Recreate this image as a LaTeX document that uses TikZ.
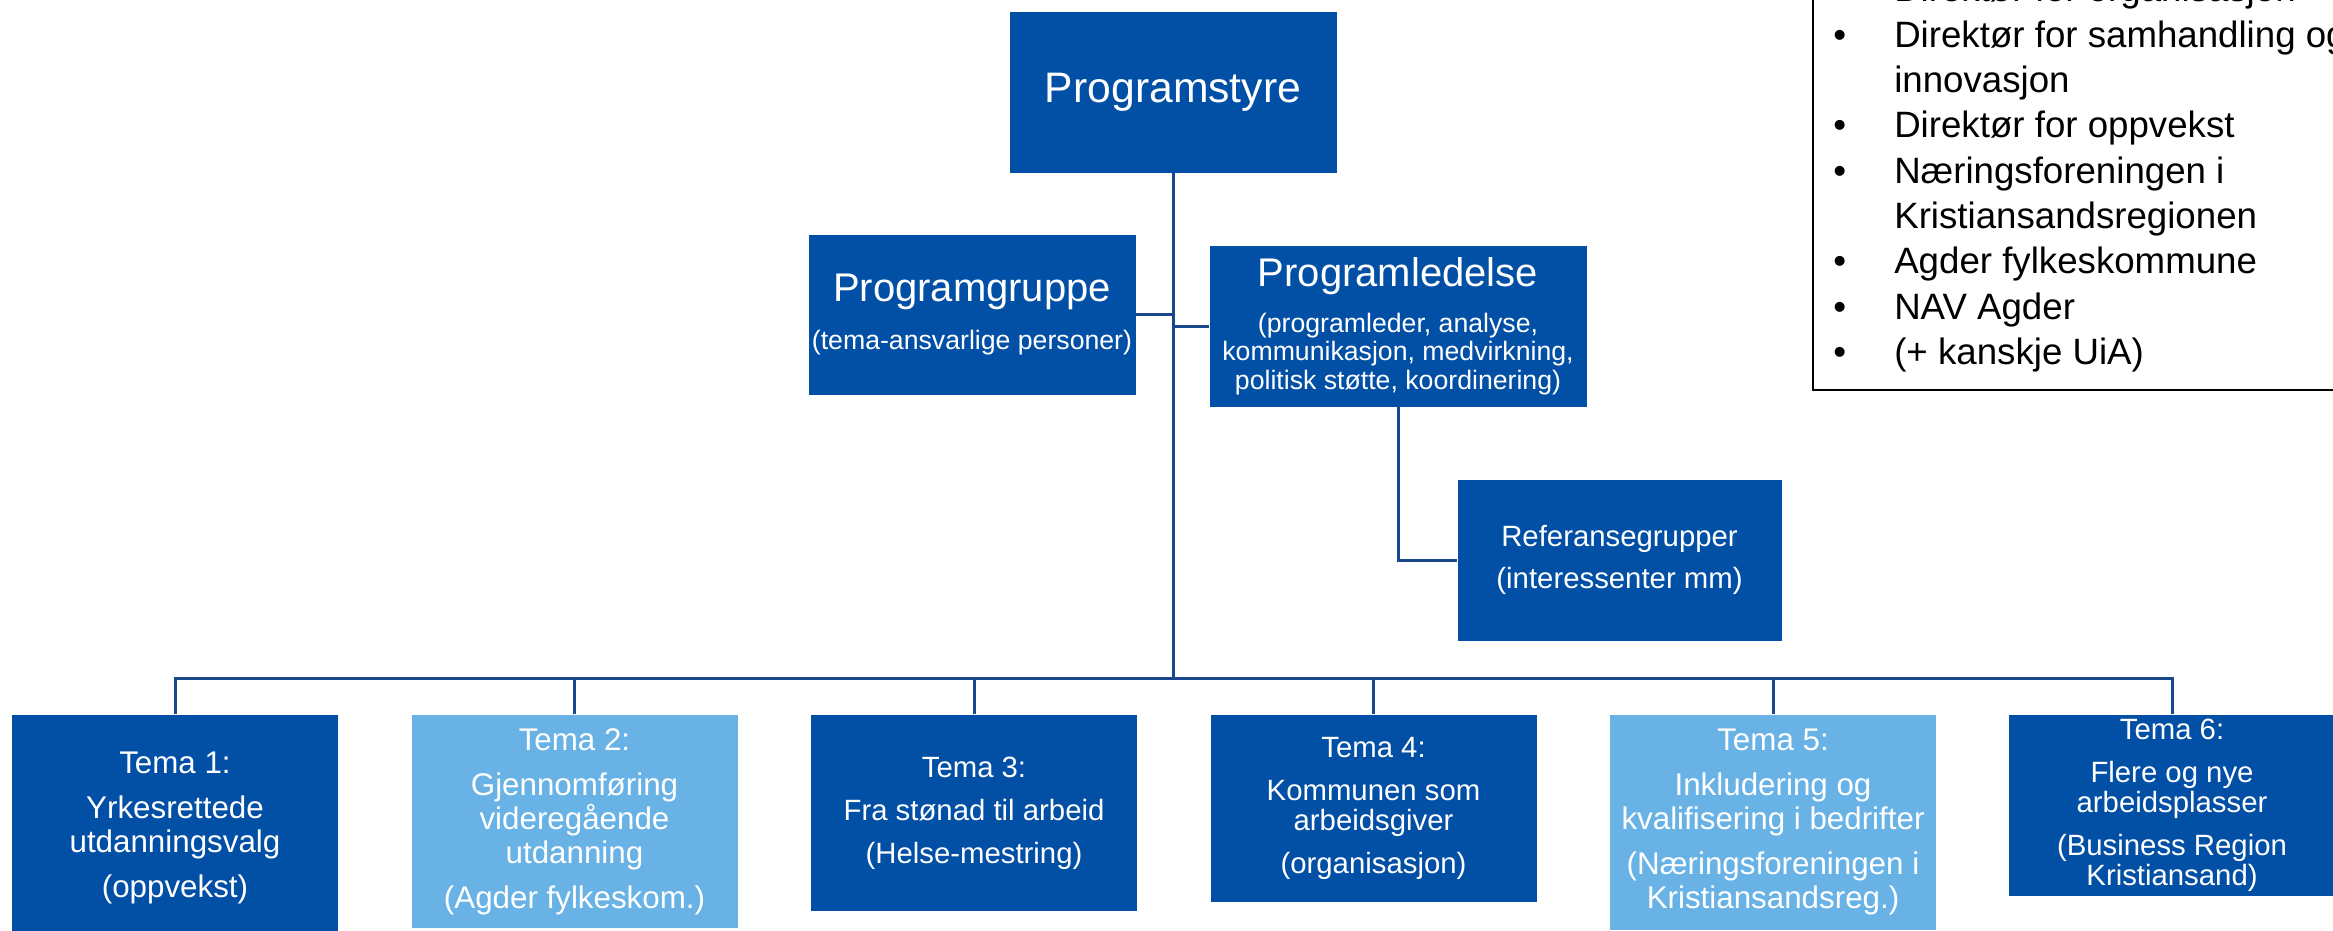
\documentclass[tikz,border=0pt]{standalone}
\usepackage{fontspec}
\setmainfont{Liberation Sans}
\usetikzlibrary{positioning}

\definecolor{boksblaa}{RGB}{2,79,166}
\definecolor{lysblaa}{RGB}{104,178,230}
\definecolor{linjeblaa}{RGB}{25,70,140}

\begin{document}
\begin{tikzpicture}[x=0.75pt,y=-0.75pt,
    boks/.style={rectangle, fill=boksblaa, draw=white, line width=0.5pt,
      text=white, align=center, inner sep=0pt},
    lys/.style={boks, fill=lysblaa},
    tema/.style={minimum width=245pt, anchor=north,
      font=\fontsize{23.5}{25.5}\selectfont},
    smal/.style={font=\fontsize{22}{22.5}\selectfont},
    linje/.style={draw=linjeblaa, line width=2.25pt}]
  \useasboundingbox (0,0) rectangle (2333,931);

  % ledelse
  \node[boks, minimum width=246pt, minimum height=121.5pt,
    font=\fontsize{32}{38}\selectfont] (styre) at (1173,92) {Programstyre};
  \node[boks, minimum width=246pt, minimum height=121pt,
    font=\fontsize{20}{20}\selectfont] (gruppe) at (972,314.5)
    {{\fontsize{30}{34}\selectfont Programgruppe}\\[14pt]
     (tema-ansvarlige personer)};
  \node[boks, minimum width=283.5pt, minimum height=121.5pt,
    font=\fontsize{20}{21.5}\selectfont] (ledelse) at (1398,326)
    {{\fontsize{30}{34}\selectfont Programledelse}\\[13pt]
     (programleder, analyse,\\kommunikasjon, medvirkning,\\
     politisk støtte, koordinering)};
  \node[boks, minimum width=244pt, minimum height=121.5pt,
    font=\fontsize{22}{32}\selectfont] (referanse) at (1619.5,560)
    {Referansegrupper\\(interessenter mm)};

  % temaer
  \node[boks, tema, minimum height=171pt] (tema1) at (175,714)
    {Tema 1:\\[8.25pt]Yrkesrettede\\utdanningsvalg\\[8.25pt](oppvekst)};
  \node[lys, tema, minimum height=160.5pt] (tema2) at (574.5,714)
    {Tema 2:\\[8.25pt]Gjennomføring\\videregående\\utdanning\\[8.25pt]
     (Agder fylkeskom.)};
  \node[boks, tema, smal, minimum height=148pt] (tema3) at (974,714)
    {Tema 3:\\[9.75pt]Fra stønad til arbeid\\[9.75pt](Helse-mestring)};
  \node[boks, tema, smal, minimum height=141pt] (tema4) at (1373.5,714)
    {Tema 4:\\[9.75pt]Kommunen som\\arbeidsgiver\\[9.75pt](organisasjon)};
  \node[lys, tema, minimum height=162pt] (tema5) at (1773,714)
    {Tema 5:\\[8.25pt]Inkludering og\\kvalifisering i bedrifter\\[8.25pt]
     (Næringsforeningen i\\Kristiansandsreg.)};
  \node[boks, tema, smal, minimum height=136.5pt] (tema6) at (2172,714)
    {Tema 6:\\[9.75pt]Flere og nye\\arbeidsplasser\\[9.75pt]
     (Business Region\\Kristiansand)};

  % deltakere i programstyret
  \draw[line width=2pt] (1813,390) rectangle (2360,-20);
  \node[anchor=base west, inner sep=0pt, font=\fontsize{27.5}{34}\selectfont]
    (liste) at (1833,2) {\begin{tabular}[t]{@{}l@{}l@{}}
      \makebox[45.75pt][l]{\textbullet} & Direktør for organisasjon\\
      \makebox[45.75pt][l]{\textbullet} & Direktør for samhandling og\\
      & innovasjon\\
      \makebox[45.75pt][l]{\textbullet} & Direktør for oppvekst\\
      \makebox[45.75pt][l]{\textbullet} & Næringsforeningen i\\
      & Kristiansandsregionen\\
      \makebox[45.75pt][l]{\textbullet} & Agder fylkeskommune\\
      \makebox[45.75pt][l]{\textbullet} & NAV Agder\\
      \makebox[45.75pt][l]{\textbullet} & (+ kanskje UiA)
    \end{tabular}};

  % linjer
  \coordinate (buss) at (1173,678);
  \draw[linje] (styre.south) -- (buss);
  \foreach \i in {1,...,6}
    \draw[linje] (tema\i.north) |- (buss);
  \draw[linje] (gruppe.east) -- (gruppe.east -| styre.south);
  \draw[linje] (ledelse.west) -- (ledelse.west -| styre.south);
  \draw[linje] (ledelse.south) |- (referanse.west);
\end{tikzpicture}
\end{document}
